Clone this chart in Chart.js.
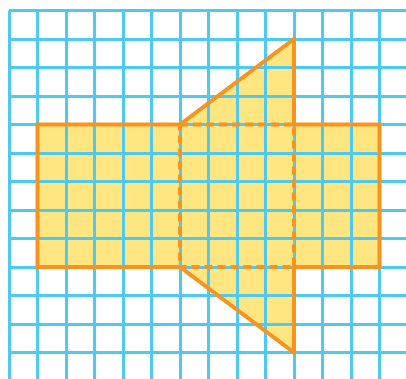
<!DOCTYPE html>
<html>
<head>
<meta charset="utf-8">
<script src="https://cdn.jsdelivr.net/npm/chart.js@4"></script>
<style>
  html, body { margin: 0; padding: 0; background: #fff; }
  canvas { display: block; }
</style>
</head>
<body>
<canvas id="netChart" width="406" height="379"></canvas>
<script>
// grid squares (unit = one cell)
const gridCols = [0, 1, 2, 3, 4, 5, 6, 7, 8, 9, 10, 11, 12, 13];
const gridRows = [0, 1, 2, 3, 4, 5, 6, 7, 8, 9, 10, 11, 12];

// outer outline of the shape (rectangle + trapezoid)
const outlineX = [1, 6, 10, 10, 13, 13, 10, 10, 6, 1, 1];
const outlineY = [4, 4, 1, 4, 4, 9, 9, 12, 9, 9, 4];

// dashed inner rectangle
const dashX = [6, 10, 10, 6, 6];
const dashY = [4, 4, 9, 9, 4];

const toPoints = (xs, ys) => xs.map((x, i) => ({ x: x, y: ys[i] }));

const blue = '#4ec9f2';
const orange = '#f7931e';
const yellow = '#ffe680';

new Chart(document.getElementById('netChart'), {
    type: 'line',
    data: {
        datasets: [
            {
                data: toPoints(outlineX, outlineY),
                borderColor: orange,
                backgroundColor: yellow,
                borderWidth: 4,
                borderJoinStyle: 'miter',
                borderCapStyle: 'square',
                fill: 'shape',
                pointRadius: 0,
                tension: 0,
            },
            {
                data: toPoints(dashX, dashY),
                borderColor: orange,
                borderWidth: 4,
                borderDash: [8, 5],
                fill: false,
                pointRadius: 0,
                tension: 0,
            }
        ]
    },
    options: {
        responsive: false,
        devicePixelRatio: 1,
        animation: false,
        layout: { padding: { left: 9, top: 10.5, right: 0, bottom: 0 } },
        plugins: {
            legend: { display: false },
            tooltip: { enabled: false },
            filler: { drawTime: 'beforeDraw' }
        },
        scales: {
            x: {
                type: 'linear',
                min: 0,
                max: 397 / 28.5,
                afterBuildTicks: (s) => { s.ticks = gridCols.map(v => ({ value: v })); },
                ticks: { display: false },
                grid: { color: blue, lineWidth: 3, drawTicks: false },
                border: { display: false }
            },
            y: {
                type: 'linear',
                reverse: true,
                min: 0,
                max: 368.5 / 28.5,
                afterBuildTicks: (s) => { s.ticks = gridRows.map(v => ({ value: v })); },
                ticks: { display: false },
                grid: { color: blue, lineWidth: 3, drawTicks: false },
                border: { display: false }
            }
        }
    }
});
</script>
</body>
</html>
